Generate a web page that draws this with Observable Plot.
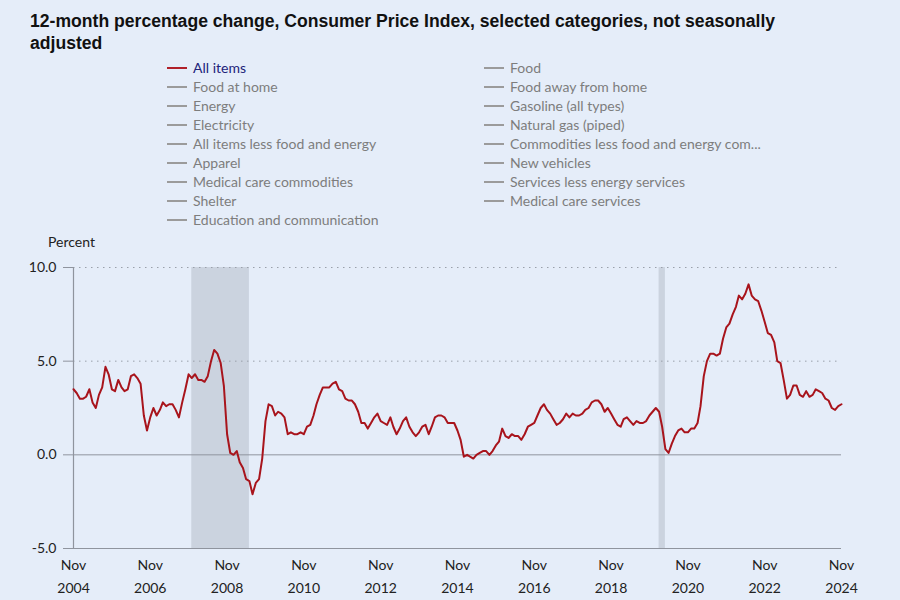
<!DOCTYPE html>
<html>
<head>
<meta charset="utf-8">
<script src="https://cdn.jsdelivr.net/npm/d3@7"></script>
<script src="https://cdn.jsdelivr.net/npm/@observablehq/plot@0.6"></script>
<style>
  html, body { margin: 0; padding: 0; }
  body { width: 900px; height: 600px; background: #e5edf9; position: relative; overflow: hidden; font-family: Lato, "Noto Sans", sans-serif; }
  #title { position: absolute; left: 30px; top: 10px; width: 790px; font-family: "Liberation Sans", Arial, sans-serif; font-weight: bold; font-size: 17.6px; line-height: 22px; color: #111; }
  .leg { position: absolute; font-size: 14px; color: #7d7d7d; white-space: nowrap; }
  .leg .sw { position: absolute; left: 0; top: 8px; width: 20px; height: 2px; background: #9b9b9b; }
  .leg .tx { position: absolute; left: 26px; top: 0; line-height: 17px; }
  #ylab { position: absolute; left: 48px; top: 233px; font-size: 14px; color: #222; }
  #chart { position: absolute; left: 0; top: 230px; }
</style>
</head>
<body>
<div id="title">12-month percentage change, Consumer Price Index, selected categories, not seasonally adjusted</div>
<div id="legend"></div>
<div id="ylab">Percent</div>
<div id="chart"></div>
<script>
// All items CPI-U, 12-month % change, Nov 2004 .. Nov 2024
const seriesStart = "2004-11";
const allItems = [
  3.5, 3.3,
  3.0, 3.0, 3.1, 3.5, 2.8, 2.5, 3.2, 3.6, 4.7, 4.3, 3.5, 3.4,
  4.0, 3.6, 3.4, 3.5, 4.2, 4.3, 4.1, 3.8, 2.1, 1.3, 2.0, 2.5,
  2.1, 2.4, 2.8, 2.6, 2.7, 2.7, 2.4, 2.0, 2.8, 3.5, 4.3, 4.1,
  4.3, 4.0, 4.0, 3.9, 4.2, 5.0, 5.6, 5.4, 4.9, 3.7, 1.1, 0.1,
  0.0, 0.2, -0.4, -0.7, -1.3, -1.4, -2.1, -1.5, -1.3, -0.2, 1.8, 2.7,
  2.6, 2.1, 2.3, 2.2, 2.0, 1.1, 1.2, 1.1, 1.1, 1.2, 1.1, 1.5,
  1.6, 2.1, 2.7, 3.2, 3.6, 3.6, 3.6, 3.8, 3.9, 3.5, 3.4, 3.0,
  2.9, 2.9, 2.7, 2.3, 1.7, 1.7, 1.4, 1.7, 2.0, 2.2, 1.8, 1.7,
  1.6, 2.0, 1.5, 1.1, 1.4, 1.8, 2.0, 1.5, 1.2, 1.0, 1.2, 1.5,
  1.6, 1.1, 1.5, 2.0, 2.1, 2.1, 2.0, 1.7, 1.7, 1.7, 1.3, 0.8,
  -0.1, 0.0, -0.1, -0.2, 0.0, 0.1, 0.2, 0.2, 0.0, 0.2, 0.5, 0.7,
  1.4, 1.0, 0.9, 1.1, 1.0, 1.0, 0.8, 1.1, 1.5, 1.6, 1.7, 2.1,
  2.5, 2.7, 2.4, 2.2, 1.9, 1.6, 1.7, 1.9, 2.2, 2.0, 2.2, 2.1,
  2.1, 2.2, 2.4, 2.5, 2.8, 2.9, 2.9, 2.7, 2.3, 2.5, 2.2, 1.9,
  1.6, 1.5, 1.9, 2.0, 1.8, 1.6, 1.8, 1.7, 1.7, 1.8, 2.1, 2.3,
  2.5, 2.3, 1.5, 0.3, 0.1, 0.6, 1.0, 1.3, 1.4, 1.2, 1.2, 1.4,
  1.4, 1.7, 2.6, 4.2, 5.0, 5.4, 5.4, 5.3, 5.4, 6.2, 6.8, 7.0,
  7.5, 7.9, 8.5, 8.3, 8.6, 9.1, 8.5, 8.3, 8.2, 7.7, 7.1, 6.5,
  6.4, 6.0, 5.0, 4.9, 4.0, 3.0, 3.2, 3.7, 3.7, 3.2, 3.1, 3.4,
  3.1, 3.2, 3.5, 3.4, 3.3, 3.0, 2.9, 2.5, 2.4, 2.6, 2.7
];
const recessionStarts = ["2007-12", "2020-02"];
const recessionEnds = ["2009-06", "2020-04"];
const tickYears = [2004, 2006, 2008, 2010, 2012, 2014, 2016, 2018, 2020, 2022, 2024];
const yTicks = [-5, 0, 5, 10];
const gridLevels = [5, 10];
const legendCol1 = ["All items", "Food at home", "Energy", "Electricity", "All items less food and energy", "Apparel", "Medical care commodities", "Shelter", "Education and communication"];
const legendCol2 = ["Food", "Food away from home", "Gasoline (all types)", "Natural gas (piped)", "Commodities less food and energy com...", "New vehicles", "Services less energy services", "Medical care services"];

const parseM = d3.utcParse("%Y-%m");
const start = parseM(seriesStart);
const data = allItems.map((v, i) => ({date: d3.utcMonth.offset(start, i), value: v}));
const recessions = recessionStarts.map((s, i) => ({x1: parseM(s), x2: parseM(recessionEnds[i])}));
const tickDates = tickYears.map(y => new Date(Date.UTC(y, 10, 1)));

// legend
const legend = document.getElementById("legend");
function addLegend(items, left) {
  items.forEach((name, i) => {
    const el = document.createElement("div");
    el.className = "leg";
    el.style.left = left + "px";
    el.style.top = (59 + i * 19) + "px";
    const sw = document.createElement("div");
    sw.className = "sw";
    const tx = document.createElement("div");
    tx.className = "tx";
    tx.textContent = name;
    if (name === "All items" && left < 300) { sw.style.background = "#b0202a"; tx.style.color = "#22237a"; }
    el.appendChild(sw); el.appendChild(tx);
    legend.appendChild(el);
  });
}
addLegend(legendCol1, 167);
addLegend(legendCol2, 484);

const chart = Plot.plot({
  width: 900,
  height: 370,
  marginLeft: 73,
  marginRight: 59,
  marginTop: 37,
  marginBottom: 52,
  style: {background: "transparent", fontFamily: "Lato, 'Noto Sans', sans-serif", fontSize: "14px", color: "#222"},
  x: {type: "utc", domain: [tickDates[0], tickDates[tickDates.length - 1]]},
  y: {domain: [-5, 10]},
  marks: [
    Plot.rectX(recessions, {x1: "x1", x2: "x2", fill: "#cbd3df"}),
    Plot.ruleY(gridLevels, {stroke: "#9aa0aa", strokeDasharray: "1.5,4.5", strokeWidth: 1}),
    Plot.ruleY([0], {stroke: "#8f949e", strokeWidth: 1}),
    Plot.ruleX([tickDates[0]], {y1: -5, y2: 10, stroke: "#8f949e", strokeWidth: 1.2}),
    Plot.ruleY([-5], {stroke: "#8f949e", strokeWidth: 1.2}),
    Plot.lineY(data, {x: "date", y: "value", stroke: "#a8141c", strokeWidth: 2}),
    Plot.axisY({ticks: yTicks, tickFormat: d => d.toFixed(1), tickSize: 10, tickPadding: 7, stroke: "#8f949e", label: null, fill: "#222"}),
    Plot.axisX({ticks: tickDates, tickFormat: () => "Nov", tickSize: 0, tickPadding: 12, label: null, fill: "#222"}),
    Plot.axisX({ticks: tickDates, tickFormat: d3.utcFormat("%Y"), tickSize: 0, tickPadding: 35, label: null, fill: "#222"})
  ]
});
document.getElementById("chart").appendChild(chart);
</script>
</body>
</html>
